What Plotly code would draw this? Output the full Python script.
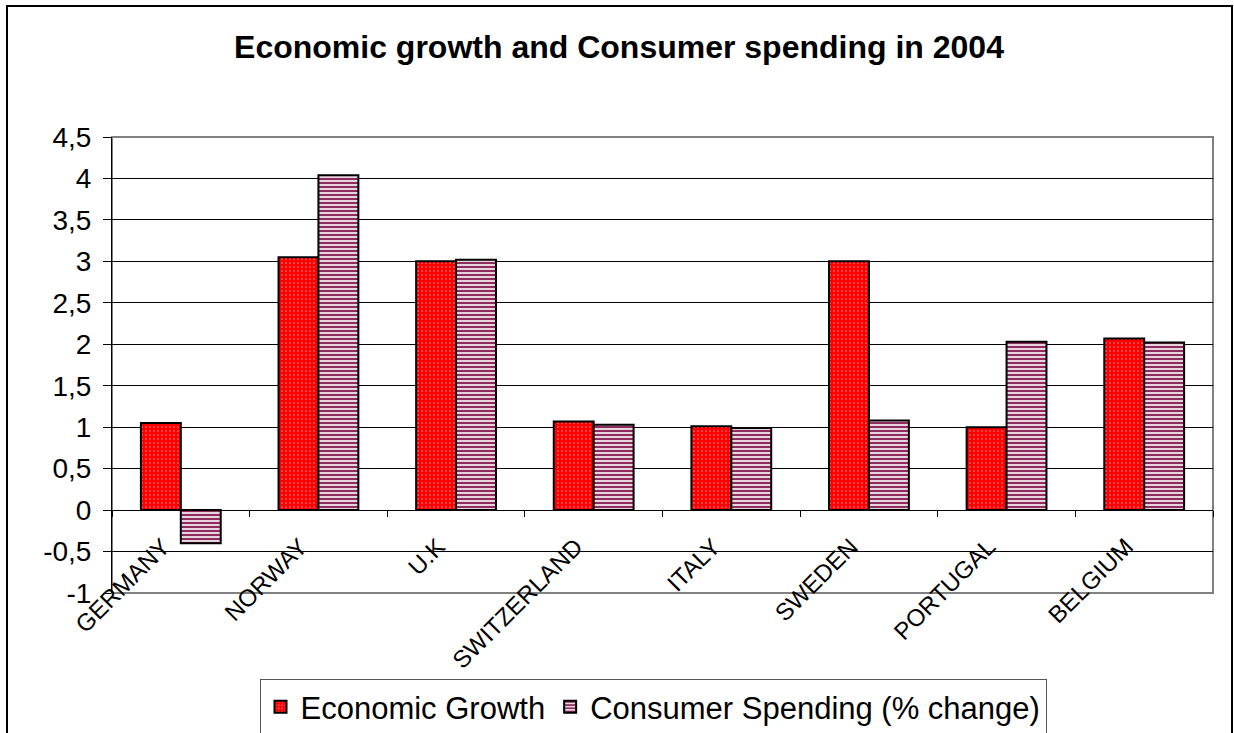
import plotly.graph_objects as go

countries = ["GERMANY", "NORWAY", "U.K", "SWITZERLAND", "ITALY", "SWEDEN", "PORTUGAL", "BELGIUM"]
economic_growth = [1.05, 3.05, 3.0, 1.07, 1.01, 3.0, 1.0, 2.07]
consumer_spending = [-0.4, 4.04, 3.02, 1.03, 0.99, 1.08, 2.03, 2.02]
y_ticks = [-1, -0.5, 0, 0.5, 1, 1.5, 2, 2.5, 3, 3.5, 4, 4.5]
y_tick_text = ["-1", "-0,5", "0", "0,5", "1", "1,5", "2", "2,5", "3", "3,5", "4", "4,5"]

W, H = 1234, 733
L, R, T, B = 112, 21, 137, 140
pw, ph = W - L - R, H - T - B
ymin, ymax = -1, 4.5

fig = go.Figure()
fig.add_trace(go.Bar(
    x=countries, y=economic_growth, name="Economic Growth",
    marker=dict(color="#FF0000", line=dict(color="black", width=2),
                pattern=dict(shape=".", fgcolor="white", bgcolor="#FF0000", size=4, solidity=0.15)),
))
fig.add_trace(go.Bar(
    x=countries, y=consumer_spending, name="Consumer Spending (% change)",
    marker=dict(color="white", line=dict(color="black", width=2),
                pattern=dict(shape="-", fgcolor="#8E2C5E", fgopacity=1, bgcolor="white",
                             size=4, solidity=0.6)),
))

zero_pos = (0 - ymin) / (ymax - ymin)

fig.update_layout(
    width=W, height=H,
    margin=dict(l=L, r=R, t=T, b=B, autoexpand=False),
    paper_bgcolor="white", plot_bgcolor="white",
    barmode="group", bargap=0.42, bargroupgap=0,
    font=dict(family="Liberation Sans, Arial, sans-serif", color="black"),
    title=dict(text="<b>Economic growth and Consumer spending in 2004</b>",
               font=dict(size=32), x=(619 / W), xanchor="center",
               y=1 - 47 / H, yanchor="middle", xref="container", yref="container"),
    showlegend=True,
    legend=dict(orientation="h", x=(653 - L) / pw, xanchor="center", y=(T + ph - 707) / ph,
                yanchor="middle",
                font=dict(size=31), bordercolor="#555555", borderwidth=1, bgcolor="white",
                traceorder="normal", itemwidth=30, tracegroupgap=0),
    xaxis=dict(anchor="free", position=zero_pos, showline=True, linecolor="black", linewidth=1,
               ticks="outside", tickson="boundaries", ticklen=6, tickcolor="black",
               tickangle=-45, tickfont=dict(size=24), ticklabelstandoff=12,
               ticklabelshift=-18, showgrid=False),
    yaxis=dict(range=[ymin, ymax], tickvals=y_ticks, ticktext=y_tick_text,
               showline=True, linecolor="black", linewidth=1, mirror=False,
               ticks="outside", ticklen=8, tickcolor="black", tickfont=dict(size=28),
               ticklabelstandoff=6,
               showgrid=True, gridcolor="black", gridwidth=1, zeroline=False),
)

# plot area border (gray) and outer chart border
fig.add_shape(type="rect", xref="paper", yref="paper", x0=0, x1=1, y0=0, y1=1,
              line=dict(color="#808080", width=2), layer="below")
fig.add_shape(type="rect", xref="paper", yref="paper",
              x0=(7 - L) / pw, x1=(1232 - L) / pw,
              y0=(T + ph - 760) / ph, y1=(T + ph - 6) / ph,
              line=dict(color="black", width=2))

fig.write_html("out.html")
